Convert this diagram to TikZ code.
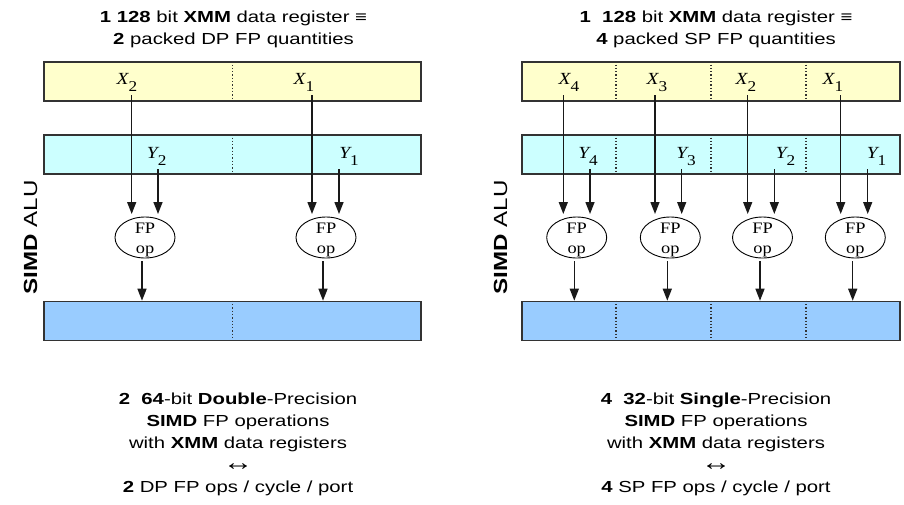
\documentclass[tikz,border=0pt]{standalone}
\usepackage{fontspec}
\setmainfont{Liberation Sans}[FakeStretch=1.27]
\newfontfamily\serffont{Liberation Serif}[FakeStretch=1.15]
\usetikzlibrary{arrows.meta,shapes.geometric,calc}
\definecolor{xregcol}{HTML}{FFFFCC}
\definecolor{yregcol}{HTML}{CCFFFF}
\definecolor{oregcol}{HTML}{99CCFF}
\definecolor{edgecol}{HTML}{333333}
\newcommand{\lowidx}[1]{\raisebox{-7pt}{\upshape\fontsize{15}{15}\selectfont #1}}
\tikzset{
  reg/.style={draw=edgecol,line width=1.6pt,inner sep=0pt,minimum height=39pt},
  divider/.style={draw=edgecol,line width=1.3pt,dotted},
  lbl/.style={font=\serffont\fontsize{17}{18}\selectfont\itshape,inner sep=0pt,anchor=base},
  opnode/.style={draw,ellipse,line width=0.9pt,minimum width=60pt,minimum height=41pt,inner sep=0pt,outer sep=3pt},
  optext/.style={font=\serffont\fontsize{16}{20}\selectfont,align=center,inner sep=0pt},
  arr/.style={-{Triangle[length=12pt,width=9pt]},line width=1.4pt,draw=black!90},
  caption/.style={font=\fontsize{16}{22}\selectfont,align=center,inner sep=0pt,anchor=north},
  sidetext/.style={font=\fontsize{19}{22}\selectfont,rotate=90,inner sep=0pt}
}
\begin{document}
\begin{tikzpicture}[x=1pt,y=-1pt]
  \useasboundingbox (0,0) rectangle (904,504);
  % double precision half
  \draw
    (233.5,10.6) node[caption] (ttll) {\textbf{1} \textbf{128} bit \textbf{XMM} data register ≡\\\textbf{2} packed DP FP quantities}
    (232.5,81.5) node[reg,fill=xregcol,minimum width=377pt] (xl) {}
    (232.5,154.5) node[reg,fill=yregcol,minimum width=377pt] (yl) {}
    (232.5,321) node[reg,fill=oregcol,minimum width=377pt] (ol) {}
    (30.5,237.5) node[sidetext] (alul) {\textbf{SIMD} ALU}
    (238,392.3) node[caption] (capl) {\textbf{2}\ \ \textbf{64}-bit \textbf{Double}-Precision\\\textbf{SIMD} FP operations\\with \textbf{XMM} data registers\\{\fontsize{24}{22}\selectfont ↔}\\\textbf{2} DP FP ops / cycle / port};
  \draw[divider] (xl.north) -- (xl.south);
  \draw[divider] (yl.north) -- (yl.south);
  \draw[divider] (ol.north) -- (ol.south);
  \draw
    (127,84.3) node[lbl] (lx2) {X\lowidx{2}}
    (304,84.3) node[lbl] (lx1) {X\lowidx{1}}
    (156.7,158.5) node[lbl] (ly2) {Y\lowidx{2}}
    (349,158.5) node[lbl] (ly1) {Y\lowidx{1}}
    (145,237.5) node[opnode] (opl2) {}
    (326,237.5) node[opnode] (opl1) {}
    (145,239.5) node[optext] (tl2) {FP\\op}
    (326,239.5) node[optext] (tl1) {FP\\op};
  \coordinate (sx2) at ([shift={(4.7,10.7)}]lx2.base);
  \coordinate (sx1) at ([shift={(8,10.7)}]lx1.base);
  \coordinate (sy2) at ([shift={(1.3,10.5)}]ly2.base);
  \coordinate (sy1) at ([shift={(-10,10.5)}]ly1.base);
  \coordinate (so2) at ([xshift=-3pt]opl2.south);
  \coordinate (so1) at ([xshift=-3pt]opl1.south);
  \begin{scope}[arr]
    \draw (sx2) -- (sx2 |- opl2.north);
    \draw (sy2) -- (sy2 |- opl2.north);
    \draw (sx1) -- (sx1 |- opl1.north);
    \draw (sy1) -- (sy1 |- opl1.north);
    \draw (so2) -- (so2 |- ol.north);
    \draw (so1) -- (so1 |- ol.north);
  \end{scope}
  % single precision half
  \draw
    (716,10.6) node[caption] (ttlr) {\textbf{1}\ \ \textbf{128} bit \textbf{XMM} data register ≡\\\textbf{4} packed SP FP quantities}
    (711,81.5) node[reg,fill=xregcol,minimum width=378pt] (xr) {}
    (711,154.5) node[reg,fill=yregcol,minimum width=378pt] (yr) {}
    (711,321) node[reg,fill=oregcol,minimum width=378pt] (or) {}
    (500.5,237.5) node[sidetext] (alur) {\textbf{SIMD} ALU}
    (716,392.3) node[caption] (capr) {\textbf{4}\ \ \textbf{32}-bit \textbf{Single}-Precision\\\textbf{SIMD} FP operations\\with \textbf{XMM} data registers\\{\fontsize{24}{22}\selectfont ↔}\\\textbf{4} SP FP ops / cycle / port};
  \foreach \f in {0.25,0.5,0.75} {
    \draw[divider] ($(xr.north west)!\f!(xr.north east)$) -- ($(xr.south west)!\f!(xr.south east)$);
    \draw[divider] ($(yr.north west)!\f!(yr.north east)$) -- ($(yr.south west)!\f!(yr.south east)$);
    \draw[divider] ($(or.north west)!\f!(or.north east)$) -- ($(or.south west)!\f!(or.south east)$);
  }
  \draw
    (569,84.3) node[lbl] (rx4) {X\lowidx{4}}
    (657,84.3) node[lbl] (rx3) {X\lowidx{3}}
    (746,84.3) node[lbl] (rx2) {X\lowidx{2}}
    (833,84.3) node[lbl] (rx1) {X\lowidx{1}}
    (588,158.5) node[lbl] (ry4) {Y\lowidx{4}}
    (686,158.5) node[lbl] (ry3) {Y\lowidx{3}}
    (785.5,158.5) node[lbl] (ry2) {Y\lowidx{2}}
    (876.5,158.5) node[lbl] (ry1) {Y\lowidx{1}}
    (576.7,237.5) node[opnode] (opr4) {}
    (670.3,237.5) node[opnode] (opr3) {}
    (762.5,237.5) node[opnode] (opr2) {}
    (855.3,237.5) node[opnode] (opr1) {}
    (576.7,239.5) node[optext] (tr4) {FP\\op}
    (670.3,239.5) node[optext] (tr3) {FP\\op}
    (762.5,239.5) node[optext] (tr2) {FP\\op}
    (855.3,239.5) node[optext] (tr1) {FP\\op};
  \coordinate (qx4) at ([shift={(-5.7,10.7)}]rx4.base);
  \coordinate (qx3) at ([shift={(-2,10.7)}]rx3.base);
  \coordinate (qx2) at ([shift={(1.7,10.7)}]rx2.base);
  \coordinate (qx1) at ([shift={(7.7,10.7)}]rx1.base);
  \coordinate (qy4) at ([shift={(2,10.5)}]ry4.base);
  \coordinate (qy3) at ([shift={(-4.3,10.5)}]ry3.base);
  \coordinate (qy2) at ([shift={(-11.2,10.5)}]ry2.base);
  \coordinate (qy1) at ([shift={(-8.8,10.5)}]ry1.base);
  \coordinate (qo4) at ([xshift=-2.4pt]opr4.south);
  \coordinate (qo3) at ([xshift=-3pt]opr3.south);
  \coordinate (qo2) at ([xshift=-2.5pt]opr2.south);
  \coordinate (qo1) at ([xshift=-2.6pt]opr1.south);
  \begin{scope}[arr]
    \draw (qx4) -- (qx4 |- opr4.north);
    \draw (qy4) -- (qy4 |- opr4.north);
    \draw (qx3) -- (qx3 |- opr3.north);
    \draw (qy3) -- (qy3 |- opr3.north);
    \draw (qx2) -- (qx2 |- opr2.north);
    \draw (qy2) -- (qy2 |- opr2.north);
    \draw (qx1) -- (qx1 |- opr1.north);
    \draw (qy1) -- (qy1 |- opr1.north);
    \draw (qo4) -- (qo4 |- or.north);
    \draw (qo3) -- (qo3 |- or.north);
    \draw (qo2) -- (qo2 |- or.north);
    \draw (qo1) -- (qo1 |- or.north);
  \end{scope}
\end{tikzpicture}
\end{document}
